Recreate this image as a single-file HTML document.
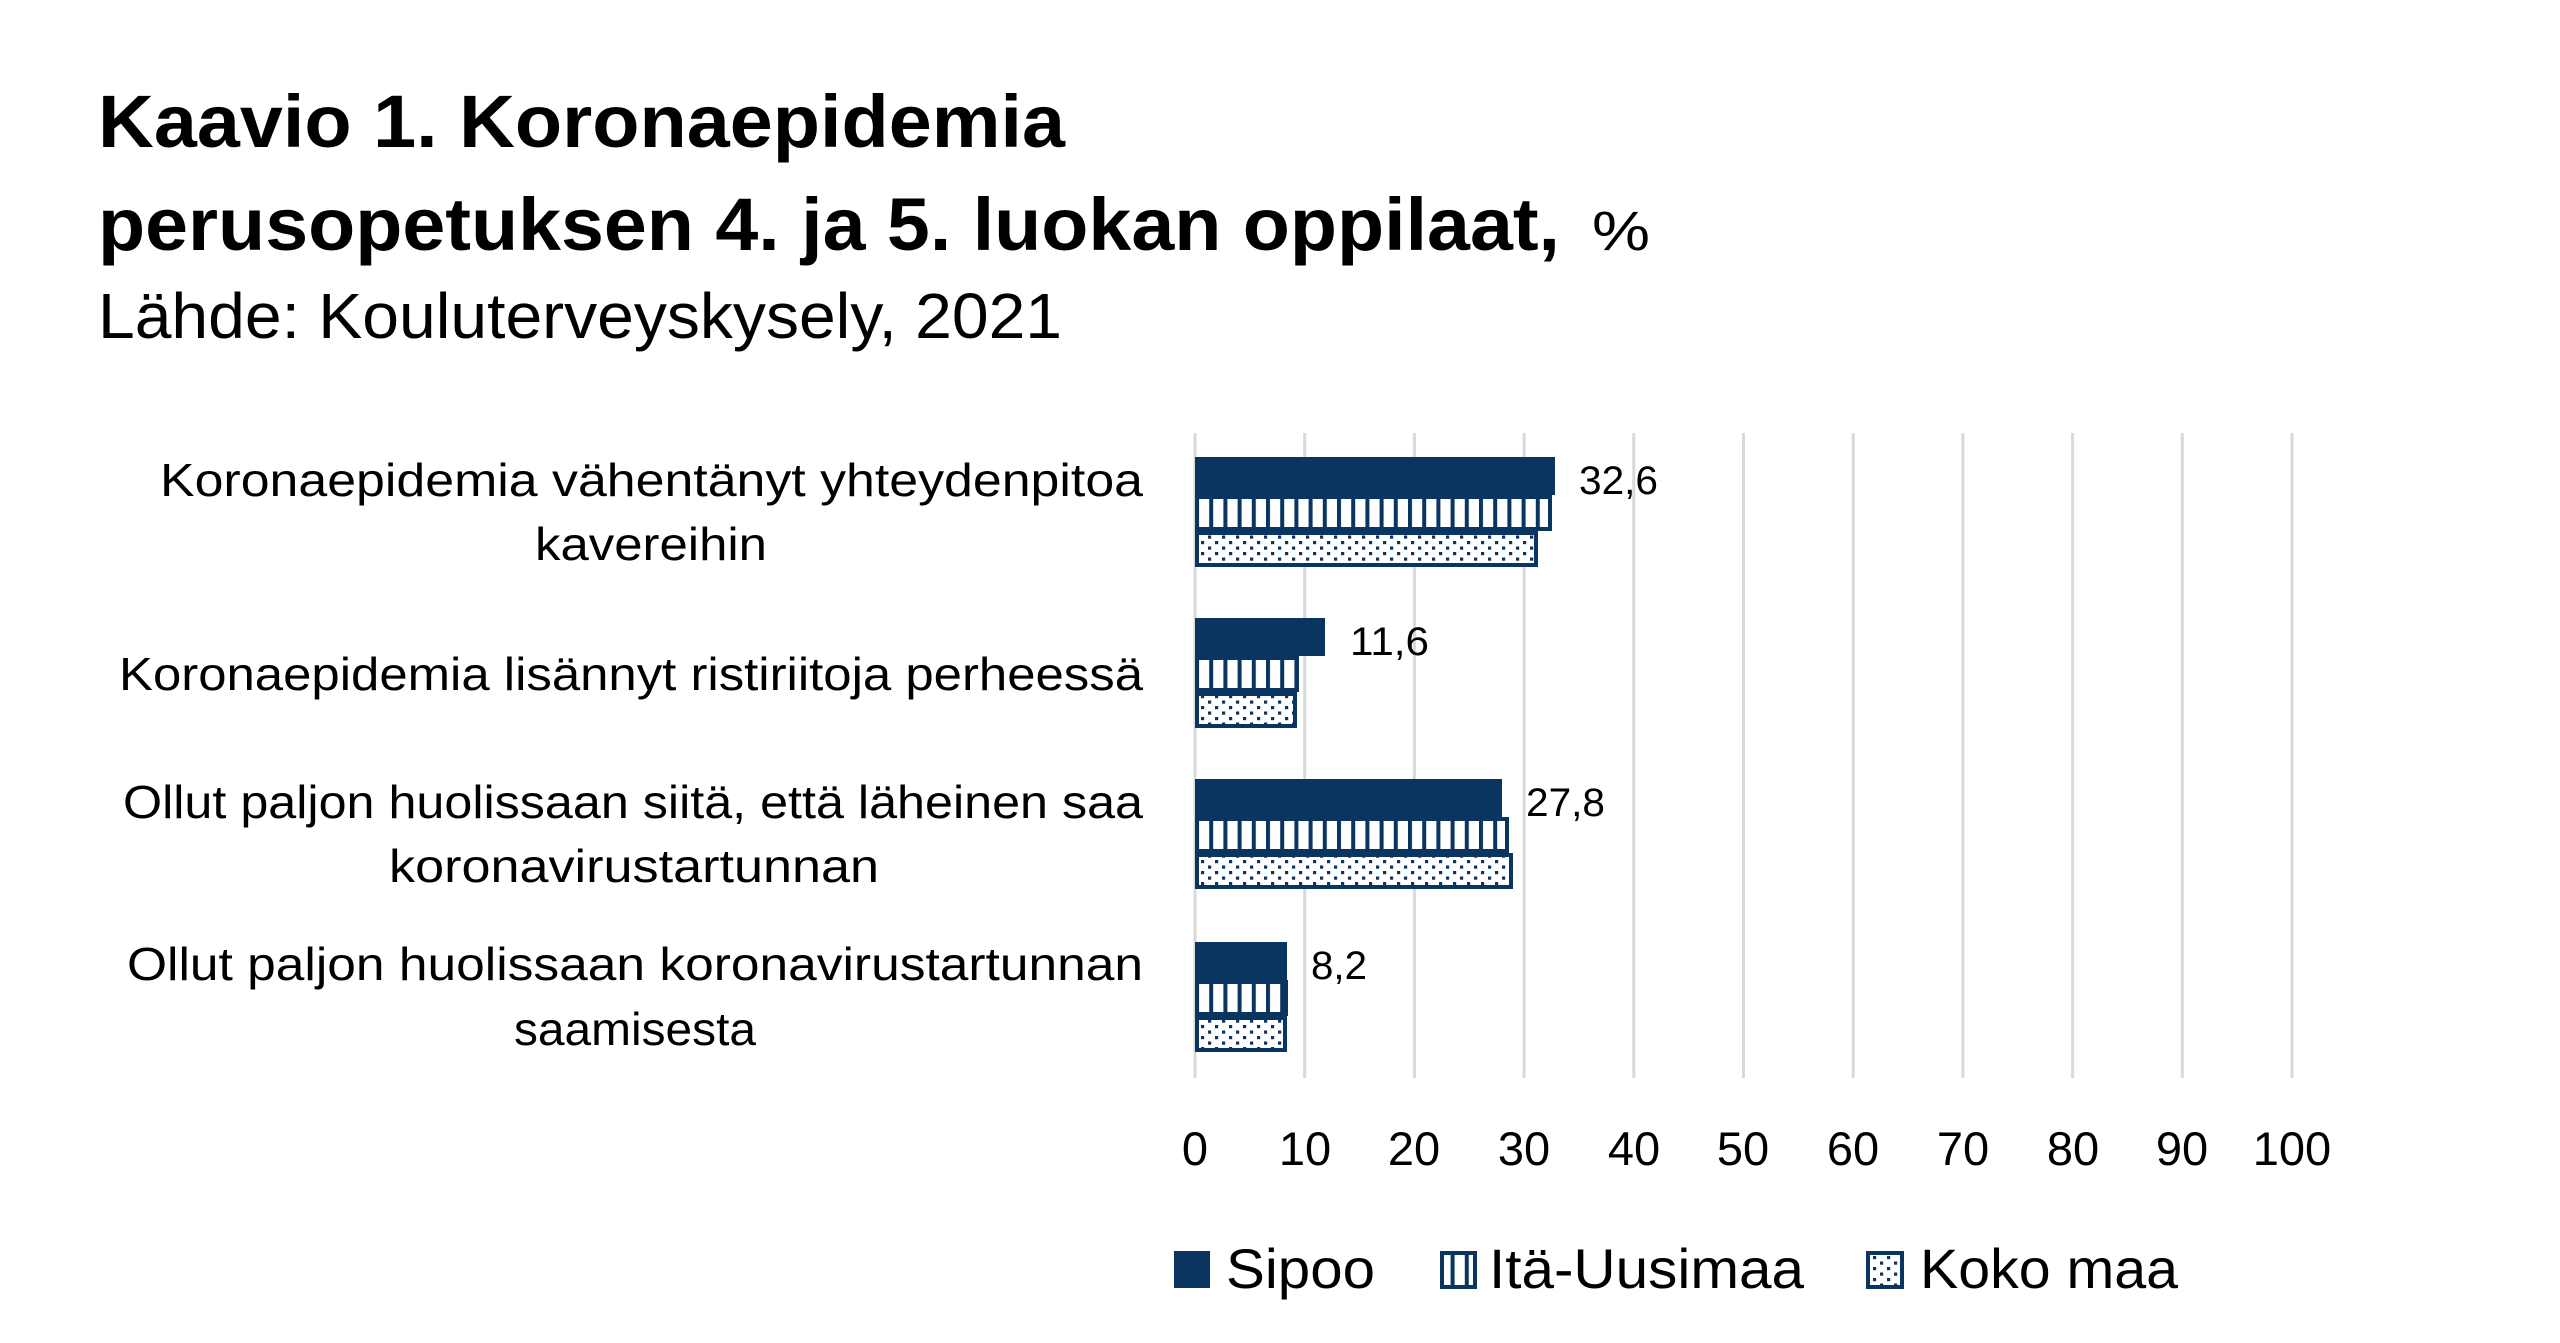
<!DOCTYPE html>
<html><head><meta charset="utf-8"><style>
html,body{margin:0;padding:0;background:#fff;}
svg{display:block;}
text{font-family:"Liberation Sans",sans-serif;fill:#000;}
</style></head><body>
<svg width="2560" height="1343" viewBox="0 0 2560 1343" xmlns="http://www.w3.org/2000/svg">
<defs>
<pattern id="str" patternUnits="userSpaceOnUse" x="1195" y="0" width="14.2" height="20">
<rect width="14.2" height="20" fill="#fff"/><rect x="0" width="4" height="20" fill="#0a3560"/>
</pattern>
<pattern id="dot" patternUnits="userSpaceOnUse" x="1199" y="0" width="14" height="11">
<rect width="14" height="11" fill="#fff"/><rect x="2" y="2" width="3.2" height="3.2" fill="#0a3560"/><rect x="9" y="7.5" width="3.2" height="3.2" fill="#0a3560"/>
</pattern>
</defs>
<text x="98" y="147" font-size="74" font-weight="bold" textLength="967" lengthAdjust="spacingAndGlyphs">Kaavio 1. Koronaepidemia</text>
<text x="98" y="250" font-size="74" font-weight="bold" textLength="1462" lengthAdjust="spacingAndGlyphs">perusopetuksen 4. ja 5. luokan oppilaat,</text>
<text x="1592" y="250" font-size="56" textLength="58" lengthAdjust="spacingAndGlyphs">%</text>
<text x="98" y="338" font-size="64" textLength="964" lengthAdjust="spacingAndGlyphs">Lähde: Kouluterveyskysely, 2021</text>
<g stroke="#d9d9d9" stroke-width="3">
<line x1="1195" y1="433" x2="1195" y2="1078"/><line x1="1304.7" y1="433" x2="1304.7" y2="1078"/><line x1="1414.4" y1="433" x2="1414.4" y2="1078"/><line x1="1524.1" y1="433" x2="1524.1" y2="1078"/><line x1="1633.8" y1="433" x2="1633.8" y2="1078"/><line x1="1743.5" y1="433" x2="1743.5" y2="1078"/><line x1="1853.2" y1="433" x2="1853.2" y2="1078"/><line x1="1962.9" y1="433" x2="1962.9" y2="1078"/><line x1="2072.6" y1="433" x2="2072.6" y2="1078"/><line x1="2182.3" y1="433" x2="2182.3" y2="1078"/><line x1="2292" y1="433" x2="2292" y2="1078"/>
</g>
<g stroke="#0a3560" stroke-width="4">
<rect x="1197" y="459" width="356" height="34" fill="#0a3560"/>
<rect x="1197" y="497" width="353" height="32" fill="url(#str)"/>
<rect x="1197" y="533" width="339" height="32" fill="url(#dot)"/>
<rect x="1197" y="620" width="126" height="34" fill="#0a3560"/>
<rect x="1197" y="658" width="100" height="32" fill="url(#str)"/>
<rect x="1197" y="694" width="98" height="32" fill="url(#dot)"/>
<rect x="1197" y="781" width="303" height="34" fill="#0a3560"/>
<rect x="1197" y="819" width="310" height="32" fill="url(#str)"/>
<rect x="1197" y="855" width="314" height="32" fill="url(#dot)"/>
<rect x="1197" y="944" width="88" height="34" fill="#0a3560"/>
<rect x="1197" y="982" width="89" height="32" fill="url(#str)"/>
<rect x="1197" y="1018" width="88" height="32" fill="url(#dot)"/>
</g>
<g font-size="40">
<text x="1579" y="494" textLength="79" lengthAdjust="spacingAndGlyphs">32,6</text>
<text x="1350" y="655" textLength="79" lengthAdjust="spacingAndGlyphs">11,6</text>
<text x="1526" y="816" textLength="79" lengthAdjust="spacingAndGlyphs">27,8</text>
<text x="1311" y="979" textLength="56" lengthAdjust="spacingAndGlyphs">8,2</text>
</g>
<g font-size="46" text-anchor="end">
<text x="1143" y="496" textLength="983" lengthAdjust="spacingAndGlyphs">Koronaepidemia vähentänyt yhteydenpitoa</text>
<text x="651" y="560" text-anchor="middle" textLength="232" lengthAdjust="spacingAndGlyphs">kavereihin</text>
<text x="1143" y="690" textLength="1024" lengthAdjust="spacingAndGlyphs">Koronaepidemia lisännyt ristiriitoja perheessä</text>
<text x="1143" y="818" textLength="1020" lengthAdjust="spacingAndGlyphs">Ollut paljon huolissaan siitä, että läheinen saa</text>
<text x="634" y="882" text-anchor="middle" textLength="490" lengthAdjust="spacingAndGlyphs">koronavirustartunnan</text>
<text x="1143" y="980" textLength="1016" lengthAdjust="spacingAndGlyphs">Ollut paljon huolissaan koronavirustartunnan</text>
<text x="635" y="1045" text-anchor="middle" textLength="242" lengthAdjust="spacingAndGlyphs">saamisesta</text>
</g>
<g font-size="47" text-anchor="middle">
<text x="1195" y="1165">0</text><text x="1305" y="1165">10</text><text x="1414" y="1165">20</text><text x="1524" y="1165">30</text><text x="1634" y="1165">40</text><text x="1743" y="1165">50</text><text x="1853" y="1165">60</text><text x="1963" y="1165">70</text><text x="2073" y="1165">80</text><text x="2182" y="1165">90</text><text x="2292" y="1165">100</text>
</g>
<rect x="1174" y="1251" width="36" height="37" fill="#0a3560"/>
<text x="1226" y="1288" font-size="56" textLength="149" lengthAdjust="spacingAndGlyphs">Sipoo</text>
<rect x="1442" y="1253" width="33" height="34" fill="url(#str)" stroke="#0a3560" stroke-width="4"/>
<text x="1489" y="1288" font-size="56" textLength="315" lengthAdjust="spacingAndGlyphs">Itä-Uusimaa</text>
<rect x="1868" y="1253" width="34" height="34" fill="url(#dot)" stroke="#0a3560" stroke-width="4"/>
<text x="1920" y="1288" font-size="56" textLength="258" lengthAdjust="spacingAndGlyphs">Koko maa</text>
</svg>
</body></html>
